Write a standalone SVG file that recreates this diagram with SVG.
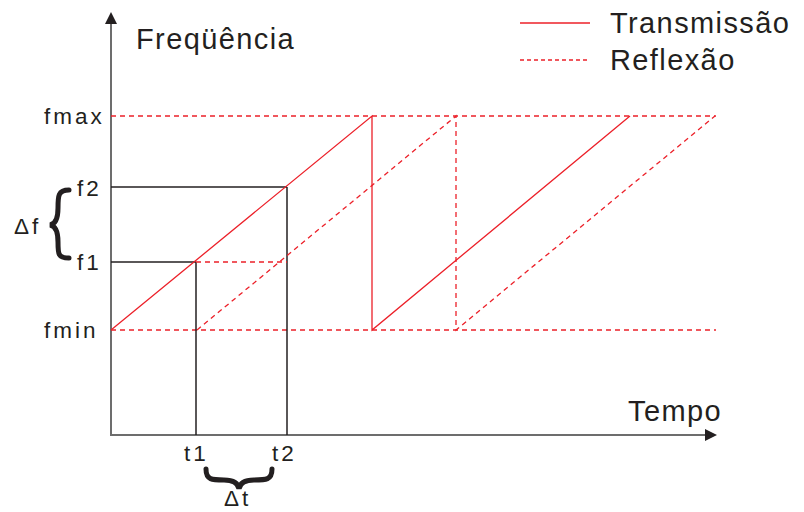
<svg xmlns="http://www.w3.org/2000/svg" width="804" height="512" viewBox="0 0 804 512">
<style>
.t{font-family:"Liberation Sans",Arial,sans-serif;fill:#231f20}
.big{font-size:29px;letter-spacing:1.4px}
.sm{font-size:22.5px;letter-spacing:3px}
.ax{stroke:#6d6d6d;stroke-width:2;fill:none}
.blk{stroke:#231f20;stroke-width:1.5;fill:none}
.tr{stroke:#ec2029;stroke-width:1.3;fill:none}
.rf{stroke:#ec2029;stroke-width:1.3;fill:none;stroke-dasharray:5,4}
.br{fill:none;stroke:#231f20;stroke-width:5;stroke-linecap:round}
</style>
<defs>
<marker id="ah" markerWidth="12" markerHeight="12" refX="10" refY="6" orient="auto" markerUnits="userSpaceOnUse">
<path d="M0,0 L12,6 L0,12 Z" fill="#231f20"/>
</marker>
</defs>
<g id="axes">
<line class="ax" x1="111" y1="436" x2="111" y2="14" marker-end="url(#ah)"/>
<line class="ax" x1="110" y1="435" x2="715" y2="435" marker-end="url(#ah)"/>
</g>
<g id="connectors">
<line class="rf" x1="111" y1="116" x2="716" y2="116"/>
<line class="rf" x1="111" y1="330" x2="716" y2="330"/>
<line class="blk" x1="111" y1="187" x2="287" y2="187"/>
<line class="blk" x1="287" y1="187" x2="287" y2="435"/>
<line class="blk" x1="111" y1="262" x2="196" y2="262"/>
<line class="blk" x1="196" y1="262" x2="196" y2="435"/>
<line class="rf" x1="196" y1="262" x2="287" y2="262"/>
<polyline class="tr" points="111,330 372,116 372,330 630,116"/>
<polyline class="rf" points="197,330 456,116 456,330 715,116"/>
</g>
<g id="labels">
<text class="t big" x="136" y="49">Freqüência</text>
<text class="t big" x="628" y="421">Tempo</text>
<text class="t sm" x="44" y="124">fmax</text>
<text class="t sm" x="77" y="196">f2</text>
<text class="t sm" x="77" y="270">f1</text>
<text class="t sm" x="44" y="338">fmin</text>
<text class="t sm" x="14" y="234">Δf</text>
<path class="br" d="M69,190 C58,190 58,196 58,208 C58,218 56,224 50,225 C56,226 58,232 58,242 C58,254 58,258 69,258"/>
<text class="t sm" x="184" y="461">t1</text>
<text class="t sm" x="272" y="461">t2</text>
<path class="br" d="M206,469 C206,480 212,480 224,480 C232,480 238,482 239,489 C240,482 246,480 254,480 C266,480 272,480 272,469"/>
<text class="t sm" x="224" y="506">Δt</text>
</g>
<g id="legend">
<line class="tr" x1="520" y1="23" x2="590" y2="23" style="stroke-width:1.6"/>
<line class="rf" x1="520" y1="60" x2="590" y2="60" style="stroke-dasharray:4,3"/>
<text class="t big" x="610" y="33">Transmissão</text>
<text class="t big" x="610" y="70">Reflexão</text>
</g>
</svg>
